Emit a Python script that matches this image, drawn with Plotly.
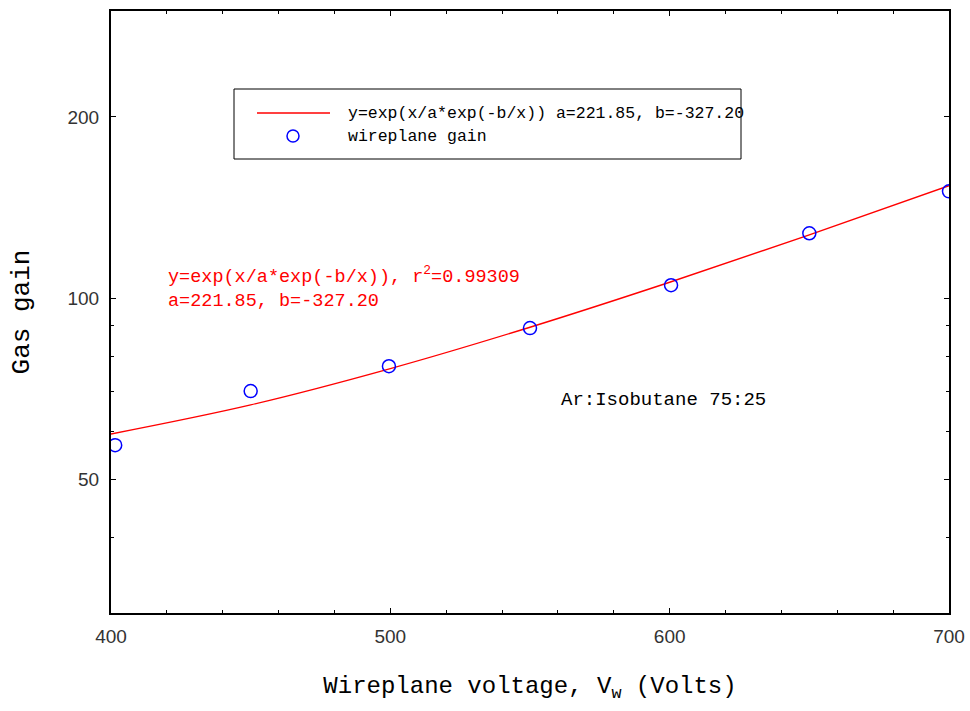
import plotly.graph_objects as go

# Measured wireplane gain
voltage = [401.5, 450, 499.5, 550, 600.5, 650, 700]
gain = [57.0, 70.1, 77.1, 89.2, 105.1, 128.2, 150.5]

# Fitted curve y = exp(x/a*exp(-b/x)), a=221.85, b=-327.20
fit_v = [400, 450, 500, 550, 600, 650, 700]
fit_g = [59.5, 66.5, 76.4, 89.5, 106.3, 127.4, 153.8]

x_major = [400, 500, 600, 700]
x_minor = [420, 440, 460, 480, 520, 540, 560, 580, 620, 640, 660, 680]
y_major = [50, 100, 200]
y_minor = [40, 60, 70, 80, 90]

MONO = "Liberation Mono"
SANS = "Liberation Sans"

fig = go.Figure()
fig.add_trace(go.Scatter(x=fit_v, y=fit_g, mode="lines", line=dict(color="red", width=1.4, shape="spline"),
                         name="y=exp(x/a*exp(-b/x)) a=221.85, b=-327.20", showlegend=False))
fig.add_trace(go.Scatter(x=voltage, y=gain, mode="markers",
                         marker=dict(symbol="circle-open", size=13, color="blue", line=dict(width=1.5)),
                         name="wireplane gain", showlegend=False))

L, R, T, B = 111, 949, 11, 613
W, H = 970, 711
def px(x): return (x - L) / (R - L)
def py(y): return (B - y) / (B - T)

shapes = [
    dict(type="rect", xref="paper", yref="paper", x0=px(234), x1=px(741), y0=py(159), y1=py(89),
         line=dict(color="black", width=1), fillcolor="white", layer="above"),
    dict(type="line", xref="paper", yref="paper", x0=px(257), x1=px(330), y0=py(113), y1=py(113),
         line=dict(color="red", width=1.4), layer="above"),
    dict(type="circle", xref="paper", yref="paper", x0=px(293 - 6), x1=px(293 + 6), y0=py(136 + 6), y1=py(136 - 6),
         line=dict(color="blue", width=1.5), layer="above"),
]

annotations = [
    dict(xref="paper", yref="paper", x=px(346), y=py(113), xanchor="left", yanchor="middle", showarrow=False,
         text="y=exp(x/a*exp(-b/x)) a=221.85, b=-327.20", font=dict(family=MONO, size=16.5, color="black")),
    dict(xref="paper", yref="paper", x=px(346), y=py(136), xanchor="left", yanchor="middle", showarrow=False,
         text="wireplane gain", font=dict(family=MONO, size=16.5, color="black")),
    dict(xref="paper", yref="paper", x=px(166), y=py(287), xanchor="left", yanchor="middle", showarrow=False,
         align="left",
         text="y=exp(x/a*exp(-b/x)), r<sup>2</sup>=0.99309<br>a=221.85, b=-327.20",
         font=dict(family=MONO, size=18.5, color="red")),
    dict(xref="paper", yref="paper", x=px(559), y=py(400), xanchor="left", yanchor="middle", showarrow=False,
         text="Ar:Isobutane 75:25", font=dict(family=MONO, size=19, color="black")),
]

fig.update_layout(
    width=W, height=H,
    margin=dict(l=L, r=W - R, t=T, b=H - B, autoexpand=False),
    plot_bgcolor="white", paper_bgcolor="white",
    showlegend=False,
    shapes=shapes, annotations=annotations,
)
fig.update_xaxes(
    range=[400, 700], tickvals=x_major, ticks="inside", ticklen=5, tickwidth=1, tickcolor="black",
    minor=dict(tickvals=x_minor, ticks="inside", ticklen=3, tickwidth=1, tickcolor="black"),
    showline=True, linecolor="black", linewidth=2, mirror="ticks", showgrid=False, zeroline=False,
    tickfont=dict(family=SANS, size=19, color="#333"), ticklabelstandoff=5, automargin=False,
    title=dict(text="Wireplane voltage, V<sub>w</sub> (Volts)", font=dict(family=MONO, size=24, color="black"),
               standoff=30),
)
fig.update_yaxes(
    type="log", range=[1.4771, 2.4771], tickvals=y_major, ticktext=[str(v) for v in y_major],
    ticks="inside", ticklen=5, tickwidth=1, tickcolor="black",
    minor=dict(tickvals=y_minor, ticks="inside", ticklen=3, tickwidth=1, tickcolor="black"),
    showline=True, linecolor="black", linewidth=2, mirror="ticks", showgrid=False, zeroline=False,
    tickfont=dict(family=SANS, size=19, color="#333"), ticklabelstandoff=6, automargin=False,
    title=dict(text="Gas gain", font=dict(family=MONO, size=26, color="black"), standoff=30),
)

fig.write_html("out.html")
